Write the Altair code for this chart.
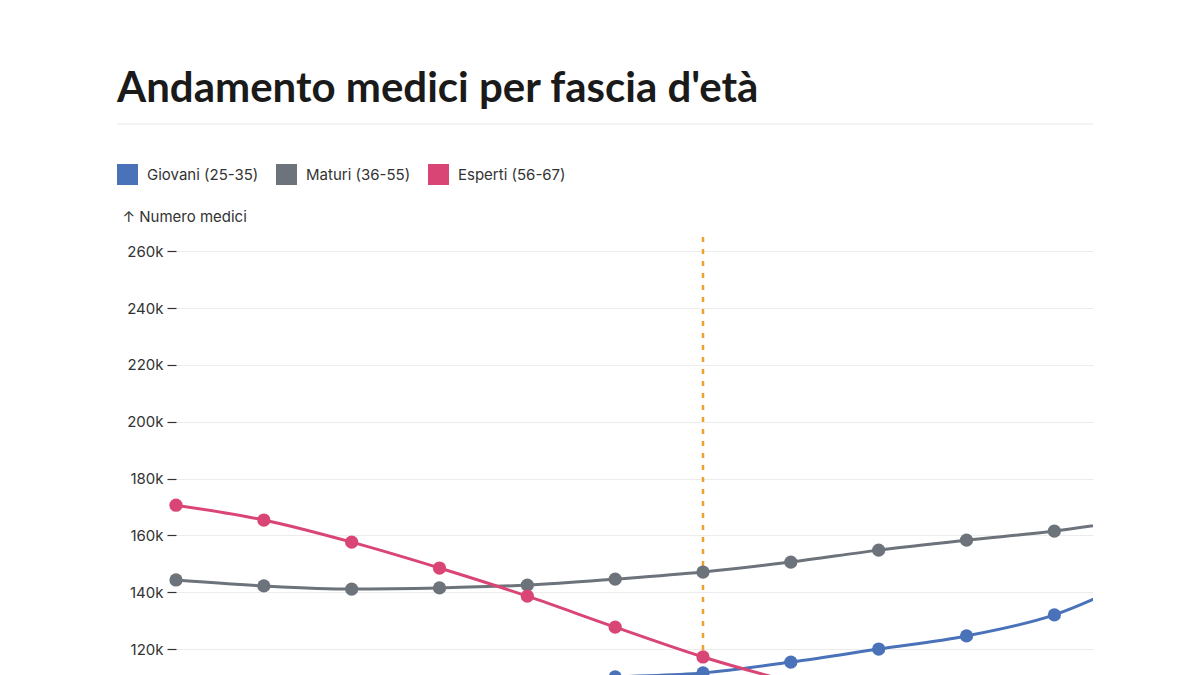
import altair as alt
import pandas as pd

# ---- data ----
years = [2018, 2019, 2020, 2021, 2022, 2023, 2024, 2025, 2026, 2027, 2028, 2029]
giovani = [99000, 101000, 103500, 106000, 108500, 110200, 111600, 115400, 120000, 124600, 132000, 145500]
maturi = [144300, 142200, 141100, 141500, 142500, 144600, 147100, 150600, 154800, 158300, 161500, 166000]
esperti = [170600, 165400, 157600, 148500, 138600, 127700, 117200, 108500, 101000, 95000, 90000, 86000]
series_names = ["Giovani (25-35)", "Maturi (36-55)", "Esperti (56-67)"]
series_colors = ["#4a72b8", "#6c737b", "#d94675"]
ref_year = [2024]
y_ticks = [120000, 140000, 160000, 180000, 200000, 220000, 240000, 260000]

rows = []
for name, vals in zip(series_names, [giovani, maturi, esperti]):
    for yr, v in zip(years, vals):
        rows.append({"anno": yr, "valore": v, "fascia": name})
df = pd.DataFrame(rows)
ref_df = pd.DataFrame({"anno": ref_year})

W, H = 917, 753
FONT = "Inter"

x_scale = alt.Scale(domain=[2018, 2028.44], nice=False, zero=False)
y_scale = alt.Scale(domain=[0, 265000], nice=False)
color = alt.Color(
    "fascia:N",
    scale=alt.Scale(domain=series_names, range=series_colors),
    legend=alt.Legend(
        title=None, orient="none", legendX=-59, legendY=-73, direction="horizontal",
        columns=3, symbolType="square", symbolSize=441, symbolStrokeWidth=0,
        symbolOpacity=1, labelFontSize=15, labelColor="#333333", labelFont=FONT,
        labelOffset=9, columnPadding=17, padding=0,
    ),
)

x_enc = alt.X("anno:Q", scale=x_scale, title=None, axis=None)
y_enc = alt.Y("valore:Q", scale=y_scale,
              axis=alt.Axis(values=y_ticks, format="~s", title="↑ Numero medici",
                            titleAngle=0, titleAlign="left", titleX=-54, titleY=-16,
                            titleBaseline="alphabetic", titleFont=FONT, titleFontSize=15,
                            titleFontWeight="normal", titleColor="#333333",
                            labelFont=FONT, labelFontSize=15, labelColor="#333333",
                            labelPadding=4, tickSize=9, tickColor="#333333", tickWidth=1.2,
                            domain=False, grid=True, gridColor="#ececec", gridWidth=1.2))

lines = alt.Chart(df).mark_line(strokeWidth=3, interpolate="monotone", clip=True).encode(
    x=x_enc, y=y_enc, color=color, detail="fascia:N")

points = alt.Chart(df).transform_filter(alt.datum.anno <= 2028).mark_circle(
    size=175, opacity=1).encode(
    x=alt.X("anno:Q", scale=x_scale, axis=None), y=alt.Y("valore:Q", scale=y_scale),
    color=alt.Color("fascia:N", scale=alt.Scale(domain=series_names, range=series_colors), legend=None))

ref_rule = alt.Chart(ref_df).mark_rule(color="#f0a02c", strokeWidth=2.5, strokeDash=[5, 7]).encode(
    x=alt.X("anno:Q", scale=x_scale, axis=None))

title_rule = alt.Chart(ref_df).mark_rule(color="#e6e6e6", strokeWidth=1).encode(
    x=alt.value(-59), x2=alt.value(917), y=alt.value(-113))

chart = alt.layer(ref_rule, lines, points, title_rule).properties(
    width=W, height=H,
    title=alt.TitleParams("Andamento medici per fascia d'età", anchor="start", frame="group",
                          font="Lato", fontSize=42, fontWeight="bold", color="#1a1a1a",
                          dx=-59, dy=-13, offset=0),
    autosize=alt.AutoSizeParams(type="none"),
    padding={"left": 168, "top": 229, "right": 99, "bottom": 40},
).configure(background="white").configure_view(stroke=None)

chart.save("out.html", embed_options={"renderer": "svg", "actions": False})
